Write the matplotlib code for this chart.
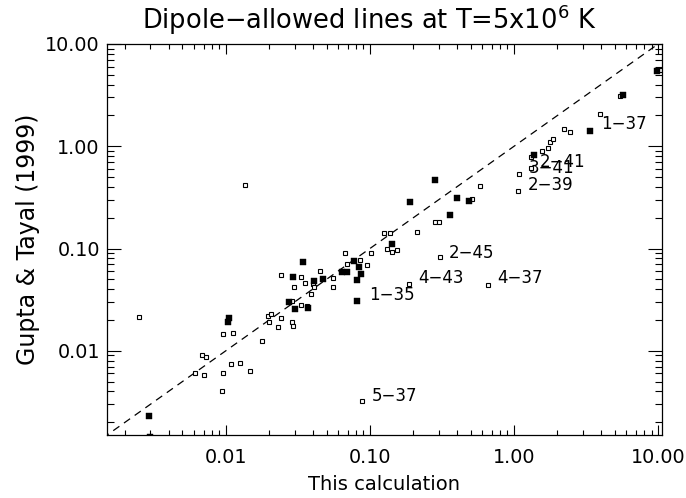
import matplotlib
matplotlib.use("Agg")
import matplotlib.pyplot as plt
from matplotlib.ticker import FixedLocator, LogLocator, NullFormatter

# Filled squares: (this calculation, Gupta & Tayal 1999)
filled_x = [0.00294, 0.00297, 0.01033, 0.01055, 0.0274, 0.0302, 0.0292, 0.0343,
            0.0371, 0.0409, 0.0471, 0.0638, 0.0688, 0.0772, 0.0836, 0.0811,
            0.0863, 0.0811, 0.1416, 0.191, 0.281, 0.357, 0.399, 0.483,
            1.37, 3.37, 5.74, 9.87]
filled_y = [0.00228, 0.00145, 0.0189, 0.0211, 0.0301, 0.0257, 0.0526, 0.0743,
            0.0259, 0.0485, 0.0503, 0.0593, 0.0593, 0.0747, 0.0659, 0.0496,
            0.0563, 0.031, 0.111, 0.283, 0.464, 0.215, 0.31, 0.29,
            0.83, 1.42, 3.19, 5.46]

# Open squares
open_x = [0.0025, 0.00682, 0.00731, 0.00607, 0.00701, 0.00949, 0.00939, 0.00958,
          0.0112, 0.0109, 0.01257, 0.01473, 0.01353, 0.01794, 0.0197, 0.0205,
          0.01995, 0.0229, 0.0243, 0.0243, 0.0286, 0.0294, 0.0296, 0.0287,
          0.0334, 0.0354, 0.0332, 0.0367, 0.0391, 0.040, 0.0411, 0.0447,
          0.0556, 0.0553, 0.0676, 0.0695, 0.0859, 0.0961, 0.102, 0.0883,
          0.126, 0.138, 0.1315, 0.1425, 0.155, 0.582, 0.509, 0.281,
          0.303, 0.212, 0.304, 0.1876, 0.658, 1.09, 1.06, 1.32,
          1.32, 1.56, 1.72, 1.79, 1.86, 2.23, 2.43, 3.98, 5.45, 10.3]
open_y = [0.0213, 0.00917, 0.00869, 0.00612, 0.00580, 0.00607, 0.0040, 0.01455,
          0.0149, 0.00737, 0.00759, 0.0064, 0.42, 0.01242, 0.0221, 0.0228,
          0.019, 0.017, 0.0211, 0.0546, 0.019, 0.0173, 0.0424, 0.0305,
          0.0283, 0.046, 0.053, 0.0275, 0.0357, 0.0453, 0.0424, 0.0603,
          0.0515, 0.0417, 0.0902, 0.0705, 0.0764, 0.0694, 0.0902, 0.00321,
          0.141, 0.143, 0.100, 0.0922, 0.0977, 0.41, 0.305, 0.183,
          0.183, 0.1435, 0.0818, 0.0453, 0.0443, 0.537, 0.365, 0.615,
          0.787, 0.90, 0.957, 1.11, 1.18, 1.49, 1.38, 2.06, 3.12, 5.55]

# Transition labels
label_text = ["1\u221237", "2\u221241", "3\u221241", "2\u221239", "2\u221245",
              "4\u221243", "4\u221237", "1\u221235", "5\u221237"]
label_x = [4.05, 1.50, 1.256, 1.244, 0.351, 0.218, 0.759, 0.0981, 0.1036]
label_y = [1.64, 0.694, 0.615, 0.422, 0.0908, 0.051, 0.051, 0.0352, 0.00361]

tick_vals = [0.01, 0.1, 1.0, 10.0]
tick_labels = ["0.01", "0.10", "1.00", "10.00"]

xlim = (0.00149, 10.6)
ylim = (0.0015, 10.0)

fig = plt.figure(figsize=(6.86, 4.98), dpi=100)
W, H = 686, 498
ax = fig.add_axes([106.7 / W, 1 - 435 / H, (661.8 - 106.7) / W, (435 - 44) / H])
ax.set_xscale("log")
ax.set_yscale("log")
ax.set_xlim(*xlim)
ax.set_ylim(*ylim)

# 1:1 line
ax.plot([1e-4, 100], [1e-4, 100], color="black", lw=0.9, dashes=(6, 4.5))

ax.plot(open_x, open_y, linestyle="none", marker="s", markersize=3.0,
        markerfacecolor="white", markeredgecolor="black", markeredgewidth=0.8)
ax.plot(filled_x, filled_y, linestyle="none", marker="s", markersize=4.2,
        markerfacecolor="black", markeredgecolor="black", markeredgewidth=0.3)

for t, x, y in zip(label_text, label_x, label_y):
    ax.text(x, y, t, fontsize=12, ha="left", va="center")

for axis in (ax.xaxis, ax.yaxis):
    axis.set_major_locator(FixedLocator(tick_vals))
    axis.set_minor_locator(LogLocator(base=10, subs=range(2, 10), numticks=20))
    axis.set_minor_formatter(NullFormatter())
ax.set_xticklabels(tick_labels)
ax.set_yticklabels(tick_labels)

ax.tick_params(axis="both", which="both", direction="in", top=True, right=True,
               width=0.8, labelsize=13.8)
ax.tick_params(axis="x", which="major", length=7, pad=9)
ax.tick_params(axis="x", which="minor", length=3.5)
ax.tick_params(axis="y", which="major", length=10, pad=5)
ax.tick_params(axis="y", which="minor", length=5)
for s in ax.spines.values():
    s.set_linewidth(0.9)

ax.set_xlabel("This calculation", fontsize=14, labelpad=6)
ax.set_ylabel("Gupta & Tayal (1999)", fontsize=17, labelpad=4)

fig.text(369 / W, 1 - 20 / H, "Dipole\u2212allowed lines at T=5x10$^{6}$ K",
         fontsize=18.5, ha="center", va="center")

fig.savefig("out.png", dpi=100, facecolor="white")
